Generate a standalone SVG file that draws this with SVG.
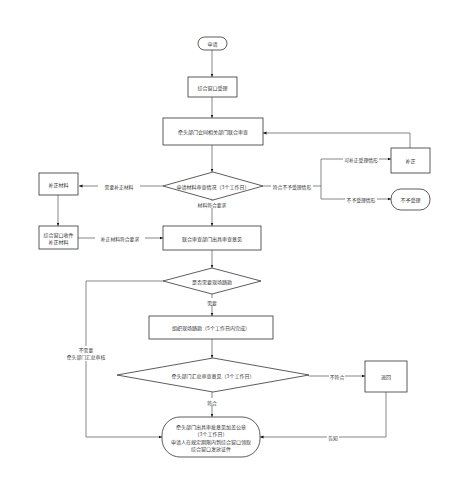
<svg xmlns="http://www.w3.org/2000/svg" width="452" height="499" viewBox="0 0 452 499">
<defs>
<marker id="ah" viewBox="0 0 10 10" refX="10" refY="5" markerWidth="5" markerHeight="5" orient="auto"><path d="M0,1 L10,5 L0,9 z" fill="#111"/></marker>
<style>
.n{fill:#fff;stroke:#333;stroke-width:0.8}
.t{font-family:"Noto Sans CJK SC","Liberation Sans",sans-serif;font-size:5px;fill:#333;text-anchor:middle;dominant-baseline:central}
.c{fill:none;stroke:#555;stroke-width:0.7;marker-end:url(#ah)}
.l{fill:none;stroke:#555;stroke-width:0.7}
.lb{font-family:"Noto Sans CJK SC","Liberation Sans",sans-serif;font-size:4.8px;fill:#333;text-anchor:middle;dominant-baseline:central}
.bg{fill:#fff}
</style>
</defs>
<rect width="452" height="499" fill="#fff"/>
<g id="connectors">
<path class="c" d="M212,50 V77"/>
<path class="c" d="M212,97 V118"/>
<path class="c" d="M212,145 V172"/>
<path class="c" d="M163,186 H79"/>
<path class="c" d="M58,195 V226"/>
<path class="c" d="M78,238 H163"/>
<path class="l" d="M263,186 H321"/>
<path class="l" d="M321,159 V199"/>
<path class="c" d="M321,159 H391"/>
<path class="c" d="M321,199 H391"/>
<path class="l" d="M410,148 V133"/>
<path class="c" d="M410,133 H263"/>
<path class="c" d="M212,200 V226"/>
<path class="c" d="M212,250 V268"/>
<path class="c" d="M212,294 V316"/>
<path class="l" d="M163,281 H86 V437"/>
<path class="c" d="M86,437 H162"/>
<path class="c" d="M212,339 V358"/>
<path class="c" d="M309,376 H365"/>
<path class="c" d="M212,392 V417"/>
<path class="l" d="M386,392 V437"/>
<path class="c" d="M386,437 H260"/>
</g>
<g id="labels">
<rect class="bg" x="98" y="182" width="42" height="8"/><text class="lb" x="119" y="186">需要补正材料</text>
<rect class="bg" x="95" y="234" width="50" height="8"/><text class="lb" x="120" y="238">补正材料符合要求</text>
<rect class="bg" x="271" y="182" width="42" height="8"/><text class="lb" x="292" y="186">符合不予受理情形</text>
<rect class="bg" x="343" y="155" width="36" height="8"/><text class="lb" x="361" y="159">可补正受理情形</text>
<rect class="bg" x="345" y="195" width="32" height="8"/><text class="lb" x="361" y="199">不予受理情形</text>
<rect class="bg" x="197" y="201" width="30" height="7"/><text class="lb" x="212" y="204.5">材料符合要求</text>
<rect class="bg" x="205" y="298" width="14" height="7"/><text class="lb" x="212" y="302">需要</text>
<rect class="bg" x="66" y="346" width="40" height="15"/><text class="lb" x="86" y="349">不需要</text><text class="lb" x="86" y="356">牵头部门汇总审核</text>
<rect class="bg" x="329" y="372" width="16" height="8"/><text class="lb" x="337" y="376">不符合</text>
<rect class="bg" x="205" y="398" width="14" height="7"/><text class="lb" x="212" y="402">符合</text>
<rect class="bg" x="327" y="433" width="12" height="8"/><text class="lb" x="333" y="437">告知</text>
</g>
<g id="start"><rect class="n" x="198" y="37" width="29" height="13" rx="6.5"/><text class="t" x="212.5" y="43.5">申请</text></g>
<g id="accept"><rect class="n" x="188" y="77" width="49" height="20"/><text class="t" x="212.5" y="87">综合窗口受理</text></g>
<g id="review"><rect class="n" x="163" y="118" width="100" height="27"/><text class="t" x="213" y="131.5">牵头部门会同相关部门联合审查</text></g>
<g id="check1"><polygon class="n" points="213,172 263,186 213,200 163,186"/><text class="t" x="213" y="186">申请材料审查情况（3个工作日）</text></g>
<g id="supplement"><rect class="n" x="39" y="173" width="39" height="22"/><text class="t" x="58.5" y="184">补正材料</text></g>
<g id="resubmit"><rect class="n" x="39" y="226" width="39" height="23"/><text class="t" x="58.5" y="234">综合窗口收件</text><text class="t" x="58.5" y="241">补正材料</text></g>
<g id="correct"><rect class="n" x="391" y="148" width="39" height="25"/><text class="t" x="410.5" y="160.5">补正</text></g>
<g id="reject"><rect class="n" x="391" y="189" width="39" height="21" rx="10"/><text class="t" x="410.5" y="199.5">不予受理</text></g>
<g id="joint"><rect class="n" x="163" y="226" width="98" height="24"/><text class="t" x="212" y="238">联合审查部门出具审查意见</text></g>
<g id="check2"><polygon class="n" points="212,268 261,281 212,294 163,281"/><text class="t" x="212" y="281">是否需要现场踏勘</text></g>
<g id="survey"><rect class="n" x="149" y="316" width="124" height="23"/><text class="t" x="211" y="327.5">组织现场踏勘（5个工作日内完成）</text></g>
<g id="check3"><polygon class="n" points="213,358 309,375 213,392 117,375"/><text class="t" x="213" y="375">牵头部门汇总审查意见（3个工作日）</text></g>
<g id="return"><rect class="n" x="365" y="361" width="42" height="31"/><text class="t" x="386" y="376.5">退回</text></g>
<g id="end"><rect class="n" x="162" y="417" width="98" height="40" rx="18"/><text class="t" x="211" y="426">牵头部门出具审批意见加盖公章</text><text class="t" x="211" y="433">（3个工作日）</text><text class="t" x="211" y="441">申请人在规定期限内到综合窗口领取</text><text class="t" x="211" y="448">综合窗口发放证件</text></g>
</svg>
